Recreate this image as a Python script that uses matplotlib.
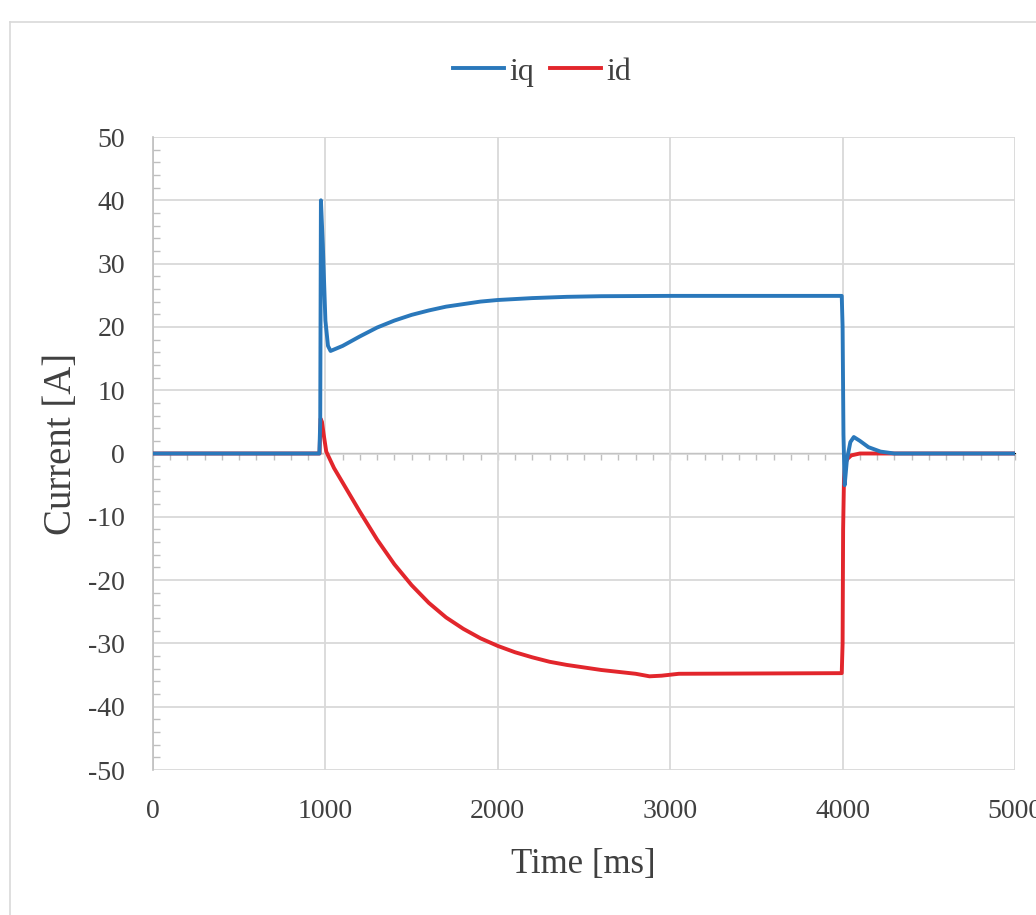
import matplotlib
matplotlib.use("Agg")
import matplotlib.pyplot as plt
from matplotlib.ticker import MultipleLocator, NullFormatter
from matplotlib.lines import Line2D

# ---- data ----
iq_t = [0, 965, 970, 974, 985, 1000, 1015, 1030, 1100, 1200, 1300, 1400, 1500,
        1600, 1700, 1800, 1900, 2000, 2200, 2400, 2600, 3000, 3995, 4000, 4005,
        4012, 4025, 4045, 4065, 4100, 4150, 4220, 4300, 5000]
iq_v = [0, 0, 5, 40, 33, 21, 17, 16.2, 17.0, 18.5, 19.9, 21.0, 21.9,
        22.6, 23.2, 23.6, 24.0, 24.25, 24.55, 24.75, 24.85, 24.9, 24.9, 20, 3,
        -5, -1, 1.8, 2.6, 2.0, 1.0, 0.3, 0, 0]

id_t = [0, 966, 972, 980, 990, 1005, 1050, 1100, 1200, 1300, 1400, 1500,
        1600, 1700, 1800, 1900, 2000, 2100, 2200, 2300, 2400, 2500, 2600, 2700,
        2800, 2880, 2950, 3050, 3995, 4000, 4003, 4008, 4015, 4030, 4050, 4100,
        4200, 5000]
id_v = [0, 0, 5.5, 5, 3, 0.3, -2.3, -4.6, -9.2, -13.6, -17.5, -20.8,
        -23.6, -25.9, -27.7, -29.2, -30.4, -31.4, -32.2, -32.9, -33.4, -33.8, -34.2, -34.5,
        -34.8, -35.2, -35.1, -34.8, -34.7, -30, -12, -4, -1.5, -0.8, -0.3, 0,
        0, 0]

x_ticks = [0, 1000, 2000, 3000, 4000, 5000]
y_ticks = [-50, -40, -30, -20, -10, 0, 10, 20, 30, 40, 50]

series_names = ["iq", "id"]
colors = ["#2a78bb", "#e2262c"]

plt.rcParams['font.family'] = ['Liberation Serif', 'DejaVu Serif']
plt.rcParams['axes.unicode_minus'] = False

fig = plt.figure(figsize=(10.36, 9.15), dpi=100)
ax = fig.add_axes([153/1036, 1 - 770/915, (1015-153)/1036, (770-137)/915])

ax.plot(iq_t, iq_v, color=colors[0], lw=2.8, label=series_names[0], zorder=4)
ax.plot(id_t, id_v, color=colors[1], lw=2.8, label=series_names[1], zorder=3)

ax.set_xlim(0, 5000)
ax.set_ylim(-50, 50)
ax.set_xticks(x_ticks)
ax.set_yticks(y_ticks)
ax.grid(True, color="#d9d9d9", lw=1.3)
ax.set_axisbelow(True)

for s in ["top", "right", "bottom"]:
    ax.spines[s].set_visible(False)
ax.spines["left"].set_color("#bfbfbf")
ax.spines["left"].set_linewidth(1.2)

ax.tick_params(axis="x", length=0, pad=21, labelsize=20, labelcolor="#404040")
ax.tick_params(axis="y", which="major", length=0, pad=20, labelsize=20, labelcolor="#404040")
ax.yaxis.set_minor_locator(MultipleLocator(2))
ax.tick_params(axis="y", which="minor", direction="in", length=5, color="#bfbfbf", width=1)

# zero axis with minor ticks
sec = ax.secondary_xaxis(0.5)
sec.set_xticks(x_ticks)
sec.xaxis.set_major_formatter(NullFormatter())
sec.xaxis.set_minor_locator(MultipleLocator(100))
sec.spines["bottom"].set_color("#bfbfbf")
sec.spines["bottom"].set_linewidth(1.2)
sec.tick_params(which="both", direction="in", length=5, color="#bfbfbf", width=1)

ax.set_xlabel("Time [ms]", fontsize=25, color="#404040")
ax.set_ylabel("Current [A]", fontsize=28, color="#404040")
ax.xaxis.set_label_coords(0.499, -0.150)
ax.yaxis.set_label_coords(-0.1056, 0.515)
ax.xaxis.label.set_va("center")
ax.yaxis.label.set_va("center")

leg = fig.legend(loc="center", bbox_to_anchor=(542/1036, 1 - 72/915), ncol=2,
                 frameon=False, fontsize=23, handlelength=1.6, handletextpad=0.15,
                 columnspacing=0.5, labelcolor="#404040")

# chart-area border
fig.add_artist(Line2D([10/1036, 10/1036], [0, 1 - 22/915], color="#d9d9d9", lw=1.2))
fig.add_artist(Line2D([10/1036, 1], [1 - 22/915, 1 - 22/915], color="#d9d9d9", lw=1.2))

fig.savefig("out.png", dpi=100)
